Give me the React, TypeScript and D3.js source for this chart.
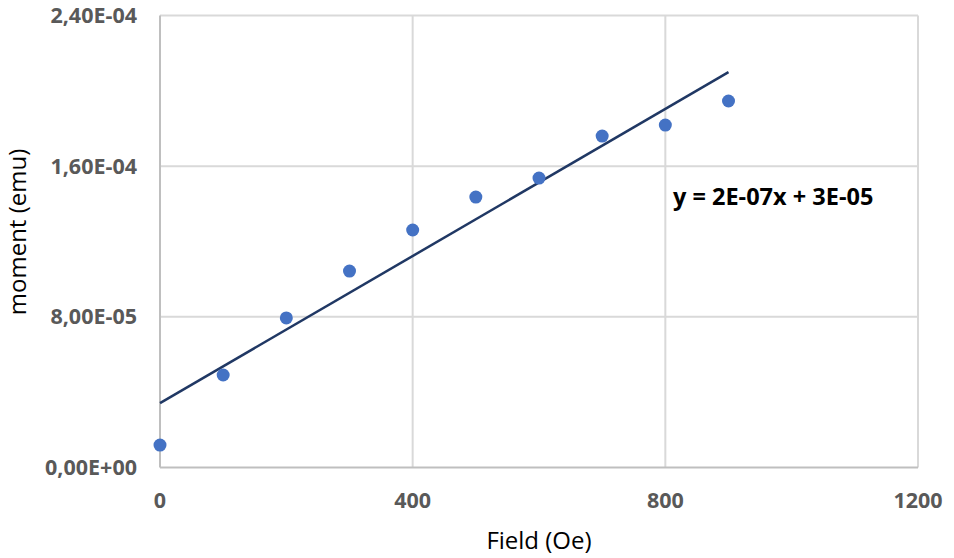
import React from "react";
import * as d3 from "d3";

// Measured magnetic moment versus applied field
const fieldOe = [0, 100, 200, 300, 400, 500, 600, 700, 800, 900];
const momentEmu = [1.19e-5, 4.91e-5, 7.94e-5, 1.043e-4, 1.261e-4, 1.436e-4, 1.537e-4, 1.76e-4, 1.818e-4, 1.946e-4];
const xTicks = [0, 400, 800, 1200];
const yTicks = [0, 8e-5, 1.6e-4, 2.4e-4];
const yTickLabels = ["0,00E+00", "8,00E-05", "1,60E-04", "2,40E-04"];
const equationLabel = "y = 2E-07x + 3E-05";

const W = 954;
const H = 558;
const m = { left: 160, right: 36, top: 15.5, bottom: 90.5 };

export default function App() {
  const x = d3.scaleLinear().domain([0, 1200]).range([m.left, W - m.right]);
  const y = d3.scaleLinear().domain([0, 2.4e-4]).range([H - m.bottom, m.top]);

  // least-squares linear trend
  const mx = d3.mean(fieldOe)!;
  const my = d3.mean(momentEmu)!;
  const sxy = d3.sum(fieldOe, (v, i) => (v - mx) * (momentEmu[i] - my));
  const sxx = d3.sum(fieldOe, (v) => (v - mx) ** 2);
  const slope = sxy / sxx;
  const intercept = my - slope * mx;
  const xExt = d3.extent(fieldOe) as [number, number];
  const trend = d3.line<number>()
    .x((v) => x(v))
    .y((v) => y(slope * v + intercept))(xExt) as string;

  const font = "'Open Sans', 'DejaVu Sans', sans-serif";

  return (
    <svg
      width={W}
      height={H}
      style={{ position: "absolute", left: 0, top: 0, background: "#fff" }}
    >
      {/* gridlines */}
      {yTicks.slice(1).map((t) => (
        <line key={"gy" + t} x1={x(0)} x2={x(1200)} y1={y(t)} y2={y(t)} stroke="#d9d9d9" strokeWidth={2} />
      ))}
      {xTicks.slice(1).map((t) => (
        <line key={"gx" + t} x1={x(t)} x2={x(t)} y1={y(0)} y2={y(2.4e-4)} stroke="#d9d9d9" strokeWidth={2} />
      ))}
      {/* axes */}
      <line x1={x(0)} x2={x(0)} y1={y(0)} y2={y(2.4e-4)} stroke="#bfbfbf" strokeWidth={2} />
      <line x1={x(0)} x2={x(1200)} y1={y(0)} y2={y(0)} stroke="#bfbfbf" strokeWidth={2} />

      {/* tick labels */}
      {yTicks.map((t, i) => (
        <text
          key={"ty" + t}
          x={137}
          y={y(t)}
          dy="0.35em"
          textAnchor="end"
          fontFamily={font}
          fontWeight="bold"
          fontSize={21.5}
          fill="#595959"
        >
          {yTickLabels[i]}
        </text>
      ))}
      {xTicks.map((t) => (
        <text
          key={"tx" + t}
          x={x(t)}
          y={500}
          dy="0.35em"
          textAnchor="middle"
          fontFamily={font}
          fontWeight="bold"
          fontSize={21.5}
          fill="#595959"
        >
          {t}
        </text>
      ))}

      {/* axis titles */}
      <text
        x={539}
        y={541}
        dy="0.35em"
        textAnchor="middle"
        fontFamily={font}
        fontSize={24}
        fill="#000"
      >
        Field (Oe)
      </text>
      <text
        transform={`translate(18, 232) rotate(-90)`}
        dy="0.35em"
        textAnchor="middle"
        fontFamily={font}
        fontSize={24}
        fill="#000"
      >
        moment (emu)
      </text>

      {/* trend line */}
      <path d={trend} fill="none" stroke="#203864" strokeWidth={2.5} />

      {/* data points */}
      {fieldOe.map((f, i) => (
        <circle key={"p" + f} cx={x(f)} cy={y(momentEmu[i])} r={6.5} fill="#4472c4" />
      ))}

      {/* trend equation */}
      <text
        x={673}
        y={197}
        dy="0.35em"
        fontFamily={font}
        fontWeight="bold"
        fontSize={23.5}
        fill="#000"
      >
        {equationLabel}
      </text>
    </svg>
  );
}
